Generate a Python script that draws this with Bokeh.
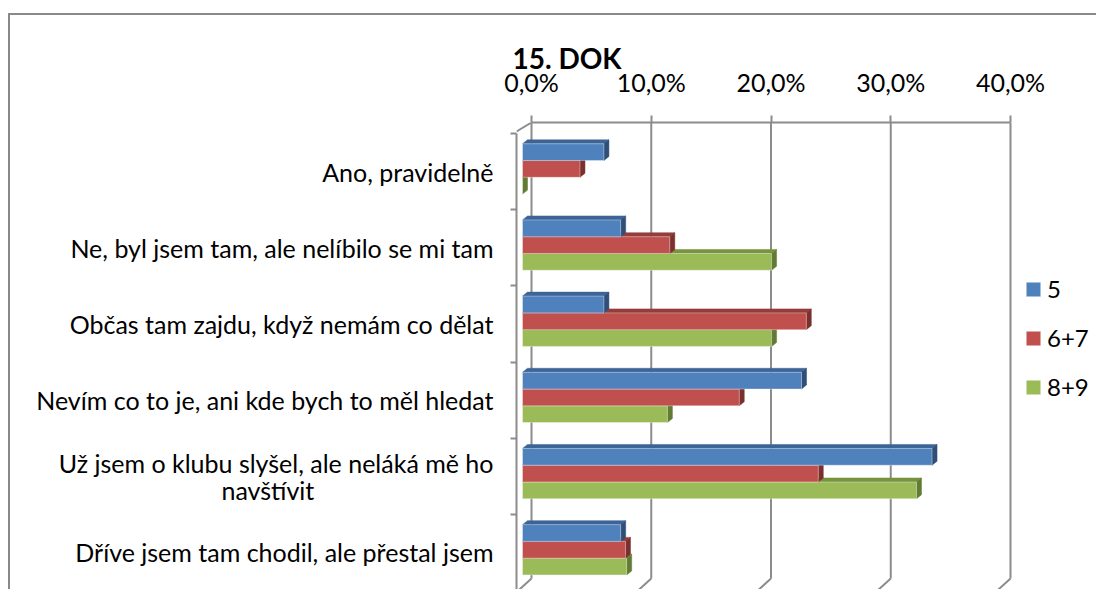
from bokeh.plotting import figure
from bokeh.models import Range1d, FixedTicker, Legend, LegendItem, Spacer, ColumnDataSource
from bokeh.layouts import column, row
from bokeh.embed import file_html
from bokeh.resources import INLINE

# ---- data ----
categories = [
    "Ano, pravidelně",
    "Ne, byl jsem tam, ale nelíbilo se mi tam",
    "Občas tam zajdu, když nemám co dělat",
    "Nevím co to je, ani kde bych to měl hledat",
    "Už jsem o klubu slyšel, ale neláká mě ho\nnavštívit" + "\u00a0" * 28 + "\u200b",
    "Dříve jsem tam chodil, ale přestal jsem",
]
series_names = ["5", "6+7", "8+9"]
s5 = [6.8, 8.2, 6.8, 23.3, 34.2, 8.2]
s67 = [4.8, 12.3, 23.7, 18.1, 24.7, 8.6]
s89 = [0.0, 20.8, 20.8, 12.1, 32.9, 8.7]
x_ticks = [0, 10, 20, 30, 40]
tick_labels = ["0,0%", "10,0%", "20,0%", "30,0%", "40,0%"]

# ---- styles ----
front_colors = ["#4F81BD", "#C0504D", "#9BBB59"]
top_colors = ["#3D6496", "#943D3B", "#77933E"]
side_colors = ["#2F4F78", "#7C302E", "#627B32"]
grey = "#8C8C8C"
FONT = "Lato"

W, H = 1088, 576
MB_LEFT, MB_TOP = 506, 107
PX_X = 11.975   # px per 1 %
PX_Y = 76.17    # px per category
D = 9 / PX_X    # front plane shift
DX = 5 / PX_X   # bar depth x
DY = 4 / PX_Y   # bar depth y
BAR_H = 0.22
frame_w = W - MB_LEFT
frame_h = H - MB_TOP

p = figure(width=W, height=H, output_backend="svg", toolbar_location=None,
           x_range=Range1d(-15 / PX_X, (frame_w - 15) / PX_X),
           y_range=Range1d((frame_h - 11) / PX_Y, -11 / PX_Y),
           x_axis_location="above",
           min_border_left=MB_LEFT, min_border_right=0, min_border_top=MB_TOP, min_border_bottom=0)
p.outline_line_color = None
p.xgrid.visible = False
p.ygrid.visible = False
p.styles = {"border-top": "2px solid #898989", "border-left": "2px solid #898989"}

# title
p.title.text = "15. DOK"
p.title.text_font = FONT
p.title.text_font_size = "28px"
p.title.text_font_style = "bold"
p.title.text_color = "black"
p.title.align = "left"
p.title.offset = -4
p.title.standoff = -22

# x axis (top)
xa = p.xaxis[0]
xa.ticker = FixedTicker(ticks=x_ticks)
xa.major_label_overrides = {t: l for t, l in zip(x_ticks, tick_labels)}
xa.bounds = (x_ticks[0], x_ticks[-1])
xa.axis_line_color = grey
xa.axis_line_width = 2
xa.major_tick_line_color = grey
xa.major_tick_line_width = 2
xa.major_tick_out = 7
xa.major_tick_in = 0
xa.minor_tick_line_color = None
xa.major_label_standoff = 19
xa.major_label_text_font = FONT
xa.major_label_text_font_size = "25px"
xa.major_label_text_color = "black"

# y axis (left)
ya = p.yaxis[0]
centers = [i + 0.5 for i in range(len(categories))]
ya.ticker = FixedTicker(ticks=centers, minor_ticks=list(range(len(categories) + 1)))
ya.major_label_overrides = {c: l for c, l in zip(centers, categories)}
ya.bounds = (0, len(categories))
ya.axis_line_color = grey
ya.axis_line_width = 2
ya.major_tick_line_color = None
ya.major_tick_out = 0
ya.major_tick_in = 0
ya.minor_tick_line_color = grey
ya.minor_tick_line_width = 2
ya.minor_tick_out = 6
ya.minor_tick_in = 0
ya.major_label_standoff = 17
ya.major_label_text_font = FONT
ya.major_label_text_font_size = "25px"
ya.major_label_text_line_height = 0.9
ya.major_label_text_color = "black"

# back-wall gridlines with floor slant
g_top = -11 / PX_Y
g_bot = 445 / PX_Y
p.segment(x0=x_ticks, y0=[g_top] * len(x_ticks), x1=x_ticks, y1=[g_bot] * len(x_ticks),
          line_color=grey, line_width=2)
p.segment(x0=x_ticks, y0=[g_bot] * len(x_ticks), x1=[t - 1.1 for t in x_ticks],
          y1=[g_bot + 12 / PX_Y] * len(x_ticks), line_color=grey, line_width=2)
# top-left wall corner
p.segment(x0=[-15 / PX_X], y0=[-2 / PX_Y], x1=[0], y1=[g_top], line_color=grey, line_width=2)

# bars, drawn bottom series first
all_series = [s5, s67, s89]
renderers = {}
for k in [2, 1, 0]:
    vals = all_series[k]
    yc = [i + 0.5 - 0.035 + (k - 1) * BAR_H for i in range(len(vals))]
    left = [-D] * len(vals)
    right = [v - D for v in vals]
    ytop = [y - BAR_H / 2 for y in yc]
    ybot = [y + BAR_H / 2 for y in yc]
    top_xs = [[l, r, r + DX, l + DX] for l, r in zip(left, right)]
    top_ys = [[t, t, t - DY, t - DY] for t in ytop]
    side_xs = [[r, r + DX, r + DX, r] for r in right]
    side_ys = [[t, t - DY, b - DY, b] for t, b in zip(ytop, ybot)]
    p.patches(top_xs, top_ys, fill_color=top_colors[k], line_color=top_colors[k], line_width=0.5)
    p.patches(side_xs, side_ys, fill_color=side_colors[k], line_color=side_colors[k], line_width=0.5)
    src = ColumnDataSource(dict(y=yc, left=left, right=right))
    r = p.hbar(y="y", left="left", right="right", height=BAR_H, source=src,
               fill_color=front_colors[k], line_color="white", line_alpha=0.35, line_width=1)
    renderers[k] = r

legend = Legend(items=[LegendItem(label=series_names[k], renderers=[renderers[k]]) for k in range(3)],
                location=(508, 190), orientation="vertical")
legend.glyph_width = 18
legend.glyph_height = 18
legend.label_height = 20
legend.spacing = 20
legend.padding = 0
legend.margin = 0
legend.label_standoff = 5
legend.label_text_font = FONT
legend.label_text_font_size = "24px"
legend.label_text_color = "black"
legend.border_line_color = None
legend.background_fill_alpha = 0
p.add_layout(legend)

layout = column(Spacer(height=13), row(Spacer(width=8), p))
open("out.html", "w").write(file_html(layout, INLINE))
